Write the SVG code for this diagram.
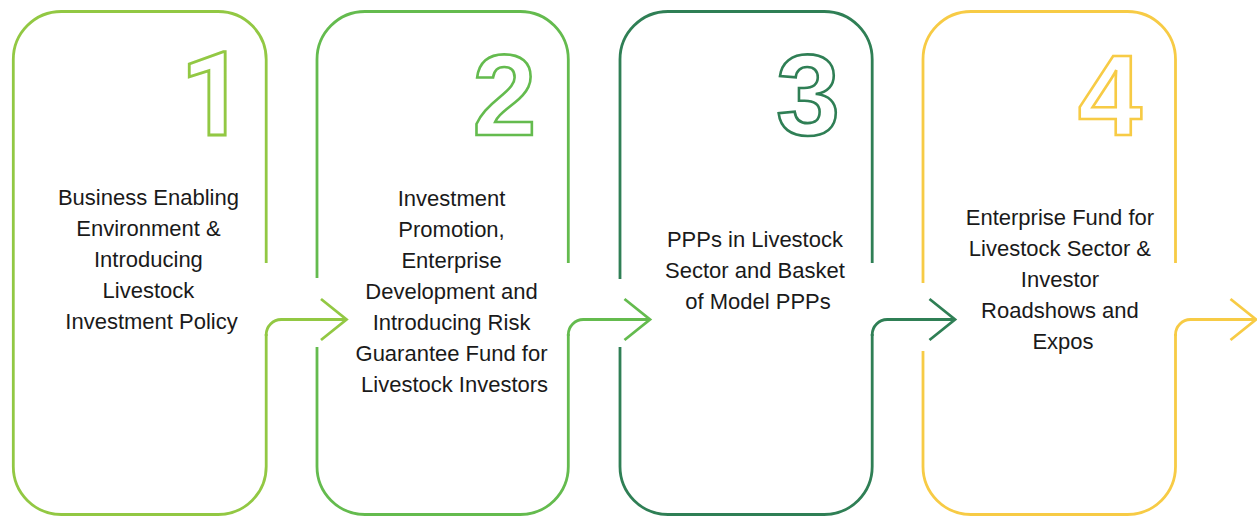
<svg xmlns="http://www.w3.org/2000/svg" width="1257" height="516" viewBox="0 0 1257 516">
  <style>
    .box { fill: none; stroke-width: 2.8; }
    .conn { fill: none; stroke-width: 2.8; stroke-linejoin: miter; }
    .num { font-family: "Liberation Sans", Arial, sans-serif; font-weight: bold; font-size: 115px; fill: #ffffff; stroke-width: 2.6; text-anchor: middle; }
    .one { font-family: Roboto, "Liberation Sans", Arial, sans-serif; font-size: 116px; stroke-width: 2.8; }
    .lbl { font-family: "Liberation Sans", Arial, sans-serif; font-size: 22px; fill: #1a1a1a; text-anchor: middle; }
    .c1 { stroke: #92C843; }
    .c2 { stroke: #64BB4E; }
    .c3 { stroke: #2F7F55; }
    .c4 { stroke: #F7CB45; }
  </style>
  <rect width="1257" height="516" fill="#ffffff"/>

  <g id="node1">
    <path class="box c1" d="M266.2,263 V59.5 A48,48 0 0 0 218.2,11.5 H61.3 A48,48 0 0 0 13.3,59.5 V466.5 A48,48 0 0 0 61.3,514.5 H218.2 A48,48 0 0 0 266.2,466.5 V334"/>
    <text class="num one c1" x="213" y="135">1</text>
    <text class="lbl" x="151.5">
      <tspan x="151.5" y="205">Business Enabling</tspan>
      <tspan x="151.5" y="236">Environment &amp;</tspan>
      <tspan x="151.5" y="267">Introducing</tspan>
      <tspan x="151.5" y="298">Livestock</tspan>
      <tspan x="151.5" y="329">Investment Policy</tspan>
    </text>
  </g>

  <g id="node2">
    <path class="box c2" d="M317,278 V59.5 A48,48 0 0 1 365,11.5 H520.3 A48,48 0 0 1 568.3,59.5 V263 M568.3,334 V466.5 A48,48 0 0 1 520.3,514.5 H365 A48,48 0 0 1 317,466.5 V347"/>
    <text class="num c2" x="504.5" y="135">2</text>
    <text class="lbl" x="454.6">
      <tspan x="454.6" y="206">Investment</tspan>
      <tspan x="454.6" y="237">Promotion,</tspan>
      <tspan x="454.6" y="268">Enterprise</tspan>
      <tspan x="454.6" y="299">Development and</tspan>
      <tspan x="454.6" y="330">Introducing Risk</tspan>
      <tspan x="454.6" y="361">Guarantee Fund for</tspan>
      <tspan x="454.6" y="392">Livestock Investors</tspan>
    </text>
  </g>

  <g id="node3">
    <path class="box c3" d="M620,279 V59.5 A48,48 0 0 1 668,11.5 H824.2 A48,48 0 0 1 872.2,59.5 V263 M872.2,334 V466.5 A48,48 0 0 1 824.2,514.5 H668 A48,48 0 0 1 620,466.5 V347"/>
    <text class="num c3" x="808" y="135">3</text>
    <text class="lbl" x="758">
      <tspan x="758" y="247">PPPs in Livestock</tspan>
      <tspan x="758" y="278">Sector and Basket</tspan>
      <tspan x="758" y="309">of Model PPPs</tspan>
    </text>
  </g>

  <g id="node4">
    <path class="box c4" d="M923,283 V59.5 A48,48 0 0 1 971,11.5 H1127.5 A48,48 0 0 1 1175.5,59.5 V263 M1175.5,334 V466.5 A48,48 0 0 1 1127.5,514.5 H971 A48,48 0 0 1 923,466.5 V351"/>
    <text class="num c4" x="1110" y="135">4</text>
    <text class="lbl" x="1063">
      <tspan x="1063" y="225">Enterprise Fund for</tspan>
      <tspan x="1063" y="256">Livestock Sector &amp;</tspan>
      <tspan x="1063" y="287">Investor</tspan>
      <tspan x="1063" y="318">Roadshows and</tspan>
      <tspan x="1063" y="349">Expos</tspan>
    </text>
  </g>

  <g id="connectors">
    <path class="conn c1" d="M266.2,336 V334.5 A15,15 0 0 1 281.2,319.5 H346.5 M321,299 L346.5,319.5 L321,340"/>
    <path class="conn c2" d="M568.3,336 V334.5 A15,15 0 0 1 583.3,319.5 H650 M624.5,299 L650,319.5 L624.5,340"/>
    <path class="conn c3" d="M872.2,336 V334.5 A15,15 0 0 1 887.2,319.5 H955 M929.5,299 L955,319.5 L929.5,340"/>
    <path class="conn c4" d="M1175.5,336 V334.5 A15,15 0 0 1 1190.5,319.5 H1256 M1230.5,299 L1256,319.5 L1230.5,340"/>
  </g>
</svg>
